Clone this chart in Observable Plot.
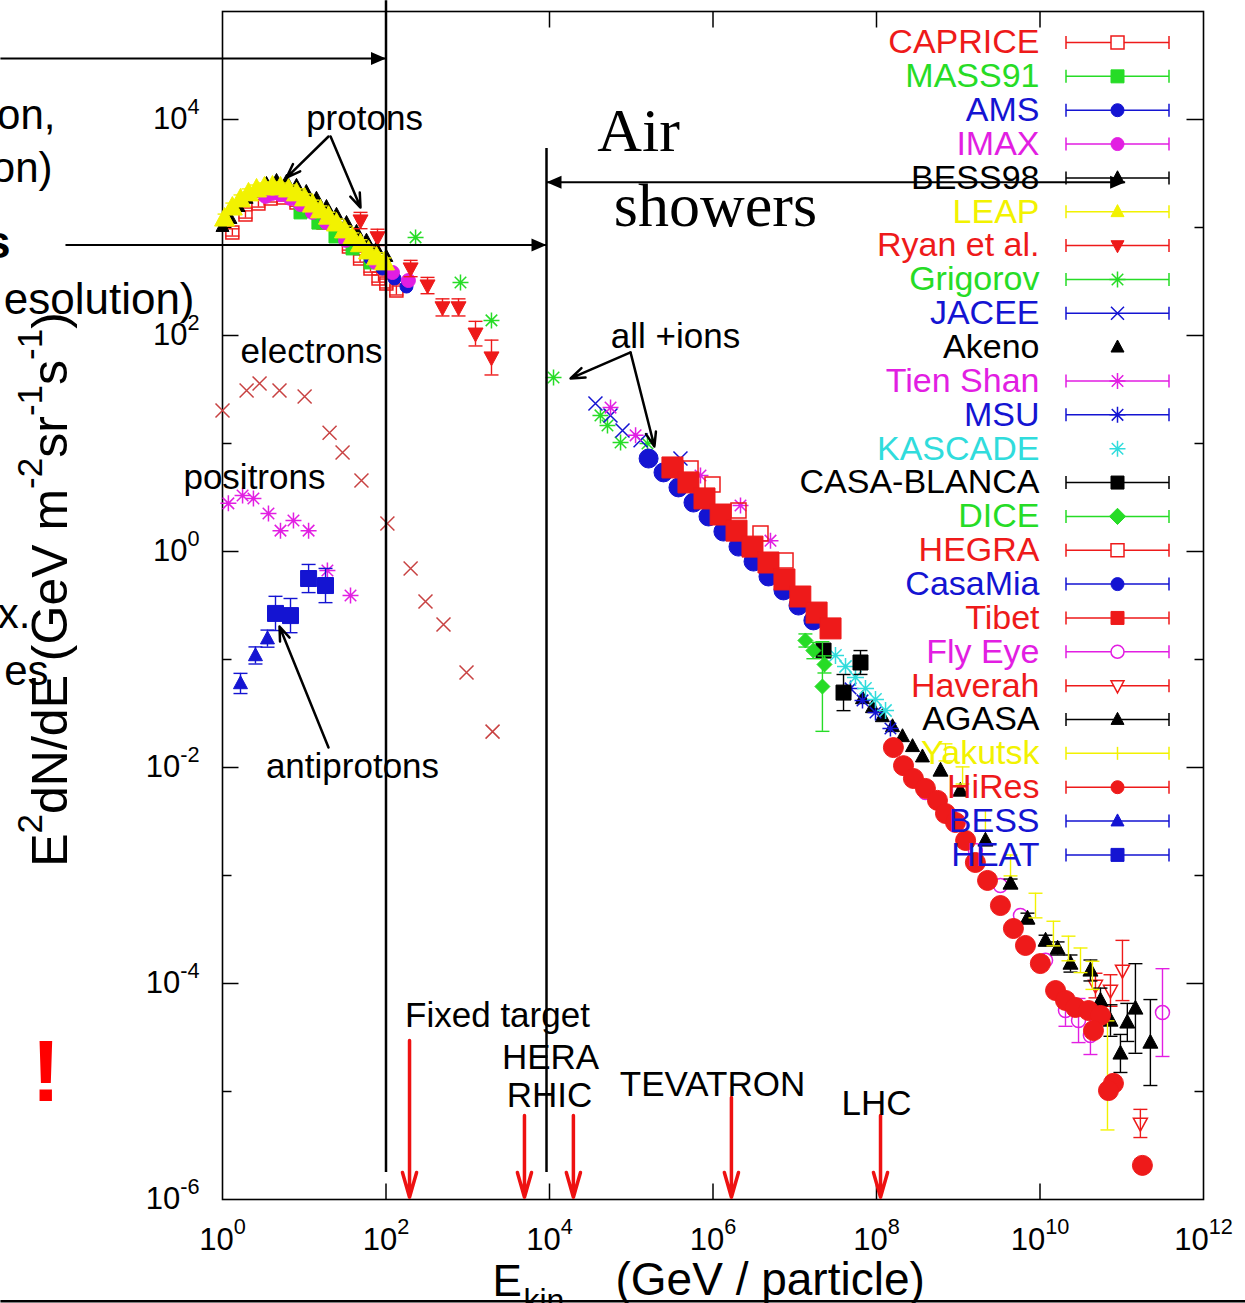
<!DOCTYPE html>
<html>
<head>
<meta charset="utf-8">
<title>Cosmic ray energy spectrum</title>
<script src="https://cdn.jsdelivr.net/npm/d3@7"></script>
<script src="https://cdn.jsdelivr.net/npm/@observablehq/plot@0.6"></script>
<style>
  html, body { margin: 0; padding: 0; background: #fff; }
  #chart { width: 1245px; height: 1303px; overflow: hidden; position: relative; }
</style>
</head>
<body>
<div id="chart"></div>
<script>
// ---------------- data (E in GeV, E^2 dN/dE, optional multiplicative error) ----------------
const xTickValues = [1, 1e2, 1e4, 1e6, 1e8, 1e10, 1e12];
const yTickValues = [1e-6, 1e-4, 1e-2, 1, 1e2, 1e4];
const yMinorValues = [1e-5, 1e-3, 1e-1, 10, 1e3];

const electrons = [[1.0,20.2],[1.97,31.0],[2.84,36.0],[4.98,31.0],[10.1,27.2],[20.4,12.6],[29.4,8.26],[50.1,4.54],[104,1.82],[200,0.697],[304,0.344],[505,0.211],[966,0.0759],[2010,0.0215]];
const positrons = [[1.18,2.79],[1.76,3.30],[2.39,3.10],[3.65,2.25],[5.12,1.56],[7.38,1.94],[11.3,1.56],[19.2,0.667],[36.8,0.392]];

const CAPRICE = [[1.32,900,1.08],[1.91,1320,1.08],[2.75,1670,1.08],[3.87,1860,1.08],[5.57,1900,1.08],[8.04,1700,1.08],[11.9,1440,1.08],[17.2,1110,1.08],[25.0,861,1.08],[35.2,667,1.08],[48.2,516,1.08],[64.6,417,1.08],[81,337,1.08],[101,303,1.1],[134,261,1.1]];
const MASS91 = [[9.0,1380],[14.9,1110],[24.1,826],[39,640],[64.6,475]];
const AMS = [[64.6,516],[90.6,417],[127,337],[178,284]];
const IMAX = [[3.36,1940],[4.08,2070],[5.12,2020],[6.78,1860],[8.98,1630],[12.6,1380],[18.7,1110],[32,760],[74.5,475],[120,383],[188,323]];
const BESS98 = [[1.0,1020],[1.25,1210],[1.57,1560],[1.97,1860],[2.61,2200],[3.45,2550],[4.58,2720],[6.06,2670],[8.04,2450],[10.6,2150],[14.1,1860],[18.7,1560],[24.8,1320],[32.9,1110],[43.6,918],[57.7,760],[76.5,640],[101,538]];
const LEAP = [[1.06,1210,1.1],[1.32,1530,1.1],[1.66,1820,1.1],[2.08,2070,1.1],[2.61,2250,1.1],[3.26,2350,1.1],[4.09,2400,1.1],[5.12,2350,1.1],[6.42,2250,1.1],[8.04,2070,1.1],[10.1,1860,1.1],[12.6,1630,1.1],[15.8,1440,1.1],[19.8,1260,1.1],[24.8,1090,1.1],[31.1,940,1.1],[38.9,810,1.1],[48.8,700,1.1],[61.1,600,1.1],[76.5,530,1.1],[95.9,475,1.1]];
const RYAN = [[48.8,1160,1.19],[78.7,810,1.19],[200,417,1.19],[322,290,1.19],[491,182,1.2],[771,182,1.2],[1244,104,1.3],[1952,62.5,1.45]];
const GRIGOROV = [[230,810],[815,310],[1950,138],[11200,40.8],[42000,18.2],[51200,14.7],[74000,10.2],[158000,10.0]];
const JACEE = [[36500,23.5],[55700,18.2],[78200,13.2],[130000,10.7],[400000,7.27]];
const AKENO = [[6.74e7,0.0436],[8.93e7,0.036],[1.18e8,0.0297],[1.57e8,0.024],[2.08e8,0.0194],[2.76e8,0.0157],[3.65e8,0.0126]];
const TIENSHAN = [[55800,21.5],[113000,11.9],[703000,5.05],[2.17e6,2.67],[5.05e6,1.26]];
const MSU = [[4.81e7,0.054],[6.74e7,0.0418],[9.72e7,0.0323],[1.48e8,0.023]];
const KASCADE = [[3.15e7,0.109],[4.18e7,0.0861],[5.53e7,0.0682],[7.33e7,0.054],[9.72e7,0.0427],[1.29e8,0.0337]];
const CASABLANCA = [[2.25e7,0.121,1.14],[3.95e7,0.0494,1.47],[6.37e7,0.0938,1.29]];
const DICE = [[1.35e7,0.150,1.15],[1.69e7,0.121,1.19],[2.31e7,0.090,1.2],[2.18e7,0.0562,2.6]];
const HEGRA = [[5.31e5,5.87],[9.86e5,4.17],[2.05e6,2.40],[3.81e6,1.47],[7.71e6,0.826]];
const CASAMIA = [[1.63e5,7.26],[2.48e5,5.40],[3.78e5,3.92],[5.77e5,2.84],[8.81e5,2.11],[1.34e6,1.53],[2.05e6,1.11],[3.13e6,0.807],[4.77e6,0.587],[7.28e6,0.436],[1.11e7,0.316],[1.69e7,0.230]];
const TIBET = [[3.19e5,6.0],[5.01e5,4.36],[7.87e5,3.10],[1.24e6,2.20],[1.94e6,1.56],[3.04e6,1.11],[4.77e6,0.791],[7.48e6,0.551],[1.17e7,0.383],[1.85e7,0.272],[2.74e7,0.194]];
const FLYEYE = [[3.97e8,0.00587],[8.04e8,0.0036],[1.62e9,0.0017],[3.28e9,8.07e-4],[5.77e9,4.27e-4],[1.17e10,1.64e-4],[2.05e10,5.62e-5,1.4],[2.96e10,4.54e-5,1.6],[4.14e10,3.3e-5,1.5],[3.15e11,5.38e-5,2.55]];
const HAVERAH = [[4.77e10,9.57e-5,1.3],[7.28e10,8.61e-5,1.4],[1.02e11,1.32e-4,1.9],[1.69e11,5.06e-6,1.35]];
const AGASA = [[6.07e8,9.38e-3],[1.06e9,6.12e-3],[2.15e9,2.11e-3],[4.36e9,8.43e-4,1.1],[7.03e9,4.0e-4,1.12],[1.17e10,2.5e-4,1.12],[1.64e10,2.11e-4,1.15],[2.36e10,1.53e-4,1.2],[4.14e10,1.32e-4,1.25],[5.49e10,6.97e-5,1.3],[7.28e10,4.54e-5,1.4],[9.64e10,2.25e-5,1.5],[1.17e11,4.36e-5,1.5],[1.47e11,5.87e-5,2.6],[2.24e11,2.84e-5,2.5]];
const YAKUTSK = [[6.98e8,0.0138,1.2],[1.13e9,0.00844,1.2],[2.15e9,0.00323,1.25],[4.36e9,0.00124,1.25],[8.81e9,5.27e-4,1.3],[1.46e10,2.9e-4,1.3],[2.23e10,2.11e-4,1.3],[3.13e10,1.64e-4,1.3],[4.38e10,1.19e-4,1.35],[6.69e10,1.41e-5,3.2]];
const HIRES = [[1.61e8,0.0153],[2.14e8,0.0104],[2.83e8,0.00791],[3.97e8,0.0064],[5.57e8,0.00496],[6.98e8,0.00375],[9.25e8,0.0031],[1.23e9,0.00211],[1.62e9,0.00132],[2.28e9,9.0e-4],[3.28e9,5.27e-4],[4.73e9,3.23e-4],[6.64e9,2.25e-4],[1.01e10,1.53e-4],[1.55e10,8.61e-5],[2.05e10,6.97e-5],[2.72e10,6.0e-5],[3.92e10,5.62e-5],[5.49e10,5.06e-5],[4.51e10,3.67e-5],[7.92e10,1.19e-5],[6.88e10,1.02e-5],[1.79e11,2.07e-6]];
const BESS = [[1.66,0.060,1.24],[2.53,0.109,1.2],[3.55,0.156,1.2]];
const HEAT = [[4.45,0.267,1.44],[6.79,0.255,1.44],[11.3,0.562,1.35],[18.2,0.484,1.44]];

// ---------------- annotations (in data units) ----------------
const dividers = [{E: 100, top: 1.26e5, bottom: 1.78e-6}, {E: 9190, top: 5380, bottom: 1.78e-6}];
const rangeArrows = [
  {y: 3.67e4, x1: 1.92e-3, x2: 100, left: false, right: true},
  {y: 690, x1: 0.012, x2: 9190, left: false, right: true},
  {y: 2620, x1: 9190, x2: 1.1e11, left: true, right: true}
];
const callouts = [
  {x1: 19.8, y1: 6960, x2: 6.07, y2: 2900},
  {x1: 21, y1: 6960, x2: 48.8, y2: 1530},
  {x1: 19.8, y1: 0.0153, x2: 4.98, y2: 0.202},
  {x1: 9.8e4, y1: 69.7, x2: 1.81e4, y2: 40},
  {x1: 9.8e4, y1: 69.7, x2: 1.92e5, y2: 9.38}
];
const colliders = [
  {name: "Fixed target", E: 194, top: 2.96e-5},
  {name: "HERA", E: 4940, top: 6.0e-6},
  {name: "RHIC", E: 1.96e4, top: 6.0e-6},
  {name: "TEVATRON", E: 1.68e6, top: 8.8e-6},
  {name: "LHC", E: 1.12e8, top: 6.0e-6}
];
const colliderBottom = 1.05e-6;
const plotLabels = [
  {label: "protons", E: 54.6, F: 7910},
  {label: "electrons", E: 12.3, F: 56.2},
  {label: "positrons", E: 2.46, F: 3.83},
  {label: "antiprotons", E: 38.9, F: 7.91e-3},
  {label: "all +ions", E: 3.48e5, F: 77.4},
  {label: "Fixed target", E: 2310, F: 3.92e-5},
  {label: "HERA", E: 1.03e4, F: 1.60e-5},
  {label: "RHIC", E: 1.0e4, F: 7.11e-6},
  {label: "TEVATRON", E: 9.86e5, F: 8.99e-6},
  {label: "LHC", E: 1.0e8, F: 6.12e-6}
];
const bigLabels = [{label: "Air", E: 1.23e5, F: 5160}, {label: "showers", E: 1.07e6, F: 1040}];
const marginNotes = [
  {text: "on,", right: 55, base: 128, size: 42, weight: "normal", color: "#000"},
  {text: "on)", right: 52, base: 181, size: 42, weight: "normal", color: "#000"},
  {text: "s", right: 10, base: 257, size: 46, weight: "bold", color: "#000"},
  {text: "esolution)", right: 194, base: 313, size: 44, weight: "normal", color: "#000"},
  {text: "x.", right: 30, base: 627, size: 42, weight: "normal", color: "#000"},
  {text: "es", right: 48, base: 684, size: 42, weight: "normal", color: "#000"},
  {text: "!", right: 60, base: 1100, size: 88, weight: "bold", color: "#ff0000"}
];
const slideEdge = {y: 1.14e-7, x1: 1.92e-3, x2: 3.26e12};

// ---------------- styles ----------------
const RED = "#ee1a1a", GREEN = "#26dc26", BLUE = "#1414d2", MAGENTA = "#e21ee2",
      YELLOW = "#f2f200", CYAN = "#30dcdc", BLACK = "#000000", XRED = "#c84242";

const S = (f) => ({draw(c, size) { f(c, Math.sqrt(size / Math.PI)); }});
const SYM = {
  square: S((c, r) => { c.moveTo(-r, -r); c.lineTo(r, -r); c.lineTo(r, r); c.lineTo(-r, r); c.closePath(); }),
  circle: S((c, r) => { c.moveTo(r, 0); c.arc(0, 0, r, 0, 2 * Math.PI); c.closePath(); }),
  triangle: S((c, r) => { c.moveTo(0, -1.1 * r); c.lineTo(r, 0.75 * r); c.lineTo(-r, 0.75 * r); c.closePath(); }),
  triangleDown: S((c, r) => { c.moveTo(0, 1.1 * r); c.lineTo(r, -0.75 * r); c.lineTo(-r, -0.75 * r); c.closePath(); }),
  diamond: S((c, r) => { const k = 1.25 * r; c.moveTo(0, -k); c.lineTo(k, 0); c.lineTo(0, k); c.lineTo(-k, 0); c.closePath(); }),
  times: S((c, r) => { c.moveTo(-r, -r); c.lineTo(r, r); c.moveTo(-r, r); c.lineTo(r, -r); }),
  star: S((c, r) => { const d = 0.72 * r; c.moveTo(-r, 0); c.lineTo(r, 0); c.moveTo(0, -r); c.lineTo(0, r); c.moveTo(-d, -d); c.lineTo(d, d); c.moveTo(-d, d); c.lineTo(d, -d); })
};
const CAP = {draw(c) { c.moveTo(-7, 0); c.lineTo(7, 0); }};
const LEGEND_BAR = {draw(c) { c.moveTo(-51.5, 0); c.lineTo(51.5, 0); c.moveTo(-51.5, -6.5); c.lineTo(-51.5, 6.5); c.moveTo(51.5, -6.5); c.lineTo(51.5, 6.5); }};
const VTICK = {draw(c) { c.moveTo(0, -6.5); c.lineTo(0, 6.5); }};
const HEAD_R = {draw(c) { c.moveTo(0, 0); c.lineTo(-15, -6.5); c.lineTo(-15, 6.5); c.closePath(); }};
const HEAD_L = {draw(c) { c.moveTo(0, 0); c.lineTo(15, -6.5); c.lineTo(15, 6.5); c.closePath(); }};
const tick = (dx, dy) => ({draw(c) { c.moveTo(0, 0); c.lineTo(dx, dy); }});

const seriesList = [
  {name: "electrons", data: electrons, color: XRED, symbol: "times", r: 7, fill: false, legend: false},
  {name: "positrons", data: positrons, color: MAGENTA, symbol: "star", r: 8, fill: false, legend: false},
  {name: "CAPRICE", data: CAPRICE, color: RED, symbol: "square", r: 6.5, fill: false},
  {name: "MASS91", data: MASS91, color: GREEN, symbol: "square", r: 6.5, fill: true},
  {name: "AMS", data: AMS, color: BLUE, symbol: "circle", r: 6.5, fill: true},
  {name: "IMAX", data: IMAX, color: MAGENTA, symbol: "circle", r: 7, fill: true},
  {name: "BESS98", data: BESS98, color: BLACK, symbol: "triangle", r: 6.5, fill: true},
  {name: "LEAP", data: LEAP, color: YELLOW, symbol: "triangle", r: 10, fill: true},
  {name: "Ryan et al.", data: RYAN, color: RED, symbol: "triangleDown", r: 7.5, fill: true},
  {name: "Grigorov", data: GRIGOROV, color: GREEN, symbol: "star", r: 8, fill: false},
  {name: "JACEE", data: JACEE, color: BLUE, symbol: "times", r: 7, fill: false},
  {name: "Akeno", data: AKENO, color: BLACK, symbol: "triangle", r: 7, fill: true, line: false},
  {name: "Tien Shan", data: TIENSHAN, color: MAGENTA, symbol: "star", r: 8, fill: false},
  {name: "MSU", data: MSU, color: BLUE, symbol: "star", r: 8, fill: false},
  {name: "KASCADE", data: KASCADE, color: CYAN, symbol: "star", r: 8.5, fill: false, line: false},
  {name: "CASA-BLANCA", data: CASABLANCA, color: BLACK, symbol: "square", r: 7.5, fill: true},
  {name: "DICE", data: DICE, color: GREEN, symbol: "diamond", r: 6, fill: true},
  {name: "HEGRA", data: HEGRA, color: RED, symbol: "square", r: 7.5, fill: false},
  {name: "CasaMia", data: CASAMIA, color: BLUE, symbol: "circle", r: 9.5, fill: true},
  {name: "Tibet", data: TIBET, color: RED, symbol: "square", r: 10.5, fill: true},
  {name: "Fly Eye", data: FLYEYE, color: MAGENTA, symbol: "circle", r: 7, fill: false},
  {name: "Haverah", data: HAVERAH, color: RED, symbol: "triangleDown", r: 7, fill: false},
  {name: "AGASA", data: AGASA, color: BLACK, symbol: "triangle", r: 7.5, fill: true},
  {name: "Yakutsk", data: YAKUTSK, color: YELLOW, symbol: null, r: 0, fill: false},
  {name: "HiRes", data: HIRES, color: RED, symbol: "circle", r: 10, fill: true},
  {name: "BESS", data: BESS, color: BLUE, symbol: "triangle", r: 7, fill: true},
  {name: "HEAT", data: HEAT, color: BLUE, symbol: "square", r: 8, fill: true}
];

// ---------------- marks ----------------
const SANS = "'Liberation Sans', Arial, Helvetica, sans-serif";
const marks = [];
marks.push(Plot.frame({stroke: "#000", strokeWidth: 1.6}));
const xInner = xTickValues.slice(1, -1);
const yInner = yTickValues.slice(1);
marks.push(Plot.dot(xInner, {x: d => d, frameAnchor: "bottom", symbol: tick(0, -16), stroke: "#000", fill: "none", strokeWidth: 1.5}));
marks.push(Plot.dot(xInner, {x: d => d, frameAnchor: "top", symbol: tick(0, 16), stroke: "#000", fill: "none", strokeWidth: 1.5}));
marks.push(Plot.dot(yInner, {y: d => d, frameAnchor: "left", symbol: tick(16, 0), stroke: "#000", fill: "none", strokeWidth: 1.5}));
marks.push(Plot.dot(yInner, {y: d => d, frameAnchor: "right", symbol: tick(-17, 0), stroke: "#000", fill: "none", strokeWidth: 1.5}));
marks.push(Plot.dot(yMinorValues, {y: d => d, frameAnchor: "left", symbol: tick(9, 0), stroke: "#000", fill: "none", strokeWidth: 1.5}));
marks.push(Plot.dot(yMinorValues, {y: d => d, frameAnchor: "right", symbol: tick(-9, 0), stroke: "#000", fill: "none", strokeWidth: 1.5}));

let row = 0;
for (const s of seriesList) {
  // key entry first (each key entry is drawn just before its data)
  if (s.legend !== false) {
    const dy = 31 + row * 33.85;
    row++;
    marks.push(Plot.text([s.name], {x: null, y: null, frameAnchor: "top-right", dx: -164, dy, text: d => d, textAnchor: "end", lineAnchor: "middle", fill: s.color, fontSize: 34}));
    if (s.line !== false) marks.push(Plot.dot([s], {x: null, y: null, frameAnchor: "top-right", dx: -86, dy, symbol: LEGEND_BAR, stroke: s.color, fill: "none", strokeWidth: 1.5}));
    if (s.symbol) marks.push(Plot.dot([s], {x: null, y: null, frameAnchor: "top-right", dx: -86, dy, symbol: SYM[s.symbol], r: s.symbol === "star" ? 8 : 6.5, fill: s.fill ? s.color : "#fff", stroke: s.color, strokeWidth: s.fill ? 1 : 1.5}));
    else marks.push(Plot.dot([s], {x: null, y: null, frameAnchor: "top-right", dx: -86, dy, symbol: VTICK, stroke: s.color, fill: "none", strokeWidth: 1.5}));
  }
  const pts = s.data.map(([E, F, err = 1]) => ({E, F, err, lo: F / err, hi: F * err}));
  const bars = pts.filter(p => p.err > 1);
  if (bars.length) {
    marks.push(Plot.ruleX(bars, {x: "E", y1: "lo", y2: "hi", stroke: s.color, strokeWidth: 1.4}));
    marks.push(Plot.dot(bars, {x: "E", y: "lo", symbol: CAP, stroke: s.color, fill: "none", strokeWidth: 1.4}));
    marks.push(Plot.dot(bars, {x: "E", y: "hi", symbol: CAP, stroke: s.color, fill: "none", strokeWidth: 1.4}));
  }
  if (s.symbol) marks.push(Plot.dot(pts, {x: "E", y: "F", symbol: SYM[s.symbol], r: s.r, fill: s.fill ? s.color : "none", stroke: s.color, strokeWidth: s.fill ? 1 : 1.5}));
}

// overlays
marks.push(Plot.ruleX(dividers, {x: "E", y1: "top", y2: "bottom", stroke: "#000", strokeWidth: 2.5}));
marks.push(Plot.link(rangeArrows, {x1: "x1", x2: "x2", y1: "y", y2: "y", stroke: "#000", strokeWidth: 2}));
marks.push(Plot.dot(rangeArrows.filter(a => a.right), {x: "x2", y: "y", symbol: HEAD_R, fill: "#000", stroke: "none"}));
marks.push(Plot.dot(rangeArrows.filter(a => a.left), {x: "x1", y: "y", symbol: HEAD_L, fill: "#000", stroke: "none"}));
marks.push(Plot.arrow(callouts, {x1: "x1", y1: "y1", x2: "x2", y2: "y2", stroke: "#000", strokeWidth: 2.5, headLength: 9, headAngle: 40}));
marks.push(Plot.arrow(colliders, {x1: "E", x2: "E", y1: "top", y2: () => colliderBottom, stroke: "#ee1111", strokeWidth: 3.5, headLength: 11, headAngle: 32}));
marks.push(Plot.text(plotLabels, {x: "E", y: "F", text: "label", fontSize: 35, lineAnchor: "bottom", textAnchor: "middle", fill: "#000"}));
marks.push(Plot.text(bigLabels, {x: "E", y: "F", text: "label", fontSize: 62, lineAnchor: "bottom", textAnchor: "middle", fill: "#000", fontFamily: "'Liberation Serif', 'Times New Roman', serif"}));
for (const n of marginNotes) {
  marks.push(Plot.text([n.text], {x: null, y: null, frameAnchor: "top-left", dx: n.right - 222, dy: n.base - 11, text: d => d, textAnchor: "end", lineAnchor: "bottom", fontSize: n.size, fontWeight: n.weight, fill: n.color}));
}
// axis titles
marks.push(Plot.text(["E^{2}dN/dE (GeV m^{-2}sr^{-1}s^{-1})"], {x: null, y: null, frameAnchor: "left", dx: -172, dy: -16, rotate: -90, text: d => d, textAnchor: "middle", lineAnchor: "middle", fontSize: 50, fill: "#000"}));
marks.push(Plot.text(["E"], {x: null, y: null, frameAnchor: "bottom-left", dx: 270, dy: 96, text: d => d, textAnchor: "start", lineAnchor: "bottom", fontSize: 44, fill: "#000"}));
marks.push(Plot.text(["kin"], {x: null, y: null, frameAnchor: "bottom-left", dx: 301, dy: 111, text: d => d, textAnchor: "start", lineAnchor: "bottom", fontSize: 32, fill: "#000"}));
marks.push(Plot.text(["(GeV / particle)"], {x: null, y: null, frameAnchor: "bottom-left", dx: 393, dy: 95, text: d => d, textAnchor: "start", lineAnchor: "bottom", fontSize: 46, fill: "#000"}));
marks.push(Plot.link([slideEdge], {x1: "x1", x2: "x2", y1: "y", y2: "y", stroke: "#000", strokeWidth: 2.5}));

const chart = Plot.plot({
  width: 1245,
  height: 1303,
  marginLeft: 222,
  marginRight: 42,
  marginTop: 11,
  marginBottom: 104,
  x: {type: "log", domain: [1, 1e12], ticks: xTickValues, tickFormat: d => `10^{${Math.round(Math.log10(d))}}`, tickSize: 0, tickPadding: 28, label: null},
  y: {type: "log", domain: [1e-6, 1e5], ticks: yTickValues, tickFormat: d => `10^{${Math.round(Math.log10(d))}}`, tickSize: 0, tickPadding: 23, label: null},
  style: {fontFamily: SANS, fontSize: "31px", background: "#fff", color: "#000"},
  marks
});
document.getElementById("chart").appendChild(chart);

// ---------------- super/subscripts written as ^{..} become tspans ----------------
const NS = "http://www.w3.org/2000/svg";
chart.querySelectorAll("text").forEach(node => {
  const s = node.textContent;
  if (!/[\^_]\{/.test(s)) return;
  const fs = parseFloat(getComputedStyle(node).fontSize) || 16;
  while (node.firstChild) node.removeChild(node.firstChild);
  const re = /([\^_])\{([^}]*)\}/g;
  let last = 0, m, cur = 0;
  const push = (txt, shift, scale) => {
    if (!txt) return;
    const t = document.createElementNS(NS, "tspan");
    t.textContent = txt;
    if (shift - cur !== 0) t.setAttribute("dy", (shift - cur).toFixed(2));
    cur = shift;
    if (scale !== 1) t.setAttribute("font-size", (fs * scale).toFixed(1));
    node.appendChild(t);
  };
  while ((m = re.exec(s))) {
    push(s.slice(last, m.index), 0, 1);
    push(m[2], m[1] === "^" ? -0.5 * fs : 0.3 * fs, 0.7);
    last = re.lastIndex;
  }
  push(s.slice(last), 0, 1);
});
</script>
</body>
</html>
